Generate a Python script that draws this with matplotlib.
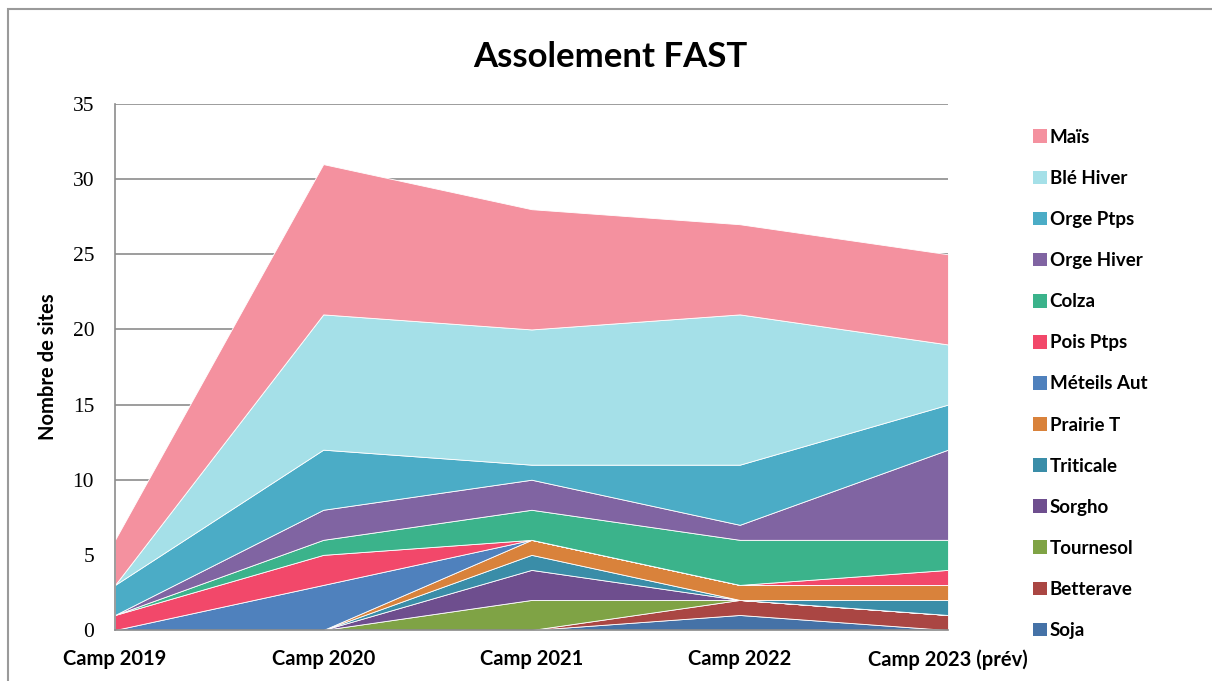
import numpy as np
import matplotlib
matplotlib.use("Agg")
import matplotlib.pyplot as plt
from matplotlib.patches import Rectangle, Patch

# campaigns on the x axis
camps = ['Camp 2019', 'Camp 2020', 'Camp 2021', 'Camp 2022', 'Camp 2023 (prév)']

# stacked from bottom to top
soja      = [0, 0, 0, 1, 0]
betterave = [0, 0, 0, 1, 1]
tournesol = [0, 0, 2, 0, 0]
sorgho    = [0, 0, 2, 0, 0]
triticale = [0, 0, 1, 0, 1]
prairie   = [0, 0, 1, 1, 1]
meteils   = [0, 3, 0, 0, 0]
pois      = [1, 2, 0, 0, 1]
colza     = [0, 1, 2, 3, 2]
orge_hiv  = [0, 2, 2, 1, 6]
orge_ptps = [2, 4, 1, 4, 3]
ble_hiv   = [0, 9, 9, 10, 4]
mais      = [3, 10, 8, 6, 6]

series = [soja, betterave, tournesol, sorgho, triticale, prairie, meteils,
          pois, colza, orge_hiv, orge_ptps, ble_hiv, mais]
names = ['Soja', 'Betterave', 'Tournesol', 'Sorgho', 'Triticale', 'Prairie T',
         'Méteils Aut', 'Pois Ptps', 'Colza', 'Orge Hiver', 'Orge Ptps',
         'Blé Hiver', 'Maïs']
colors = ['#4572A7', '#AA4643', '#7FA345', '#6E4E8E', '#3A8DA8', '#D9823B',
          '#4F81BD', '#F2486A', '#3BB38B', '#8064A2', '#4BACC6', '#A5E0E8',
          '#F4919F']

plt.rcParams['font.family'] = ['Lato', 'DejaVu Sans']

fig = plt.figure(figsize=(12.12, 6.81), dpi=100)
ax = fig.add_axes([115/1212, 1-630/681, (948-115)/1212, (630-104)/681])

x = np.arange(len(camps))
polys = ax.stackplot(x, *series, colors=colors, labels=names, zorder=2)
for p in polys:
    p.set_edgecolor('white')
    p.set_linewidth(0.6)

ax.set_xlim(0, 4)
ax.set_ylim(0, 35)
ax.set_yticks(range(0, 36, 5))
ax.yaxis.grid(True, color='#8c8c8c', linewidth=1.2, zorder=0)
ax.set_axisbelow(True)
for s in ['top', 'right']:
    ax.spines[s].set_visible(False)
ax.spines['left'].set_color('#8c8c8c')
ax.spines['bottom'].set_color('#8c8c8c')
ax.spines['left'].set_linewidth(1.2)
ax.spines['bottom'].set_linewidth(1.2)
ax.tick_params(axis='both', length=0)
ax.set_xticks(x)
ax.set_xticklabels(camps, fontsize=14.5, fontweight='bold')
for lab in ax.get_yticklabels():
    lab.set_family('Liberation Serif')
    lab.set_fontsize(15.5)
ax.tick_params(axis='y', pad=15)
ax.tick_params(axis='x', pad=14)
ax.set_ylabel('Nombre de sites', fontsize=14.5, fontweight='bold')
ax.yaxis.set_label_coords(-0.068, 0.5)

fig.text(610/1212, 1-57/681, 'Assolement FAST', ha='center', va='center',
         fontsize=25, fontweight='bold')

handles = [Patch(facecolor=c, edgecolor='none') for c in colors][::-1]
fig.legend(handles, names[::-1], loc='upper left',
           bbox_to_anchor=(1016/1212, 1-112/681), frameon=False,
           prop={'weight': 'bold', 'size': 13.5},
           handlelength=0.75, handleheight=0.75, handletextpad=0.15,
           labelspacing=1.285)

fig.patches.append(Rectangle((8/1212, -0.05), 1.1, 1-9/681+0.05,
                             transform=fig.transFigure, fill=False,
                             edgecolor='#9a9a9a', linewidth=1.5))

fig.savefig('out.png', dpi=100)
